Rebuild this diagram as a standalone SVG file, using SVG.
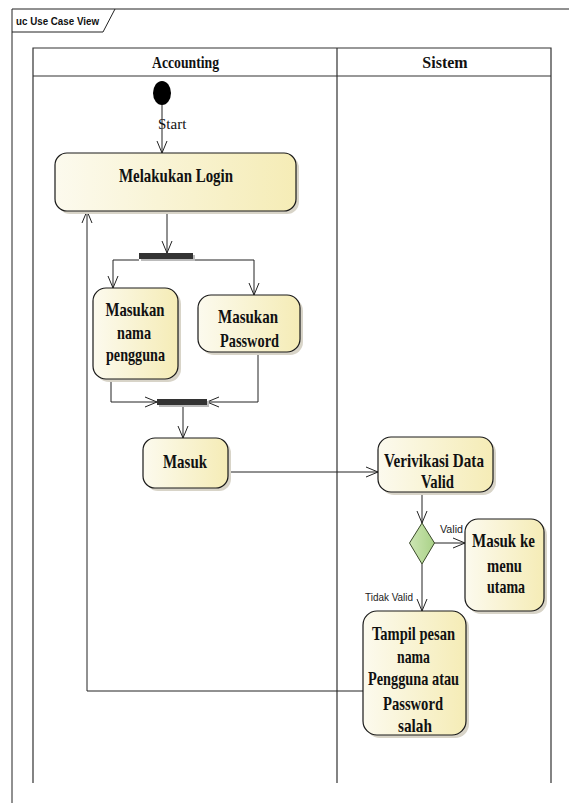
<svg xmlns="http://www.w3.org/2000/svg" width="569" height="803" viewBox="0 0 569 803">
<defs>
<linearGradient id="g" x1="0" y1="0" x2="1" y2="0">
<stop offset="0" stop-color="#fcfaee"/>
<stop offset="1" stop-color="#f5ecb6"/>
</linearGradient>
<linearGradient id="gd" x1="0" y1="0" x2="1" y2="0">
<stop offset="0" stop-color="#cde6b4"/>
<stop offset="1" stop-color="#a9d187"/>
</linearGradient>
<marker id="a" viewBox="0 0 14 12" refX="13" refY="6" markerWidth="14" markerHeight="12" markerUnits="userSpaceOnUse" orient="auto">
<path d="M1,1 L13,6 L1,11" fill="none" stroke="#222" stroke-width="1"/>
</marker>
<style>
.frame{fill:none;stroke:#222;stroke-width:1}
.lane{fill:none;stroke:#333;stroke-width:1.2}
.b{fill:url(#g);stroke:#1a1a1a;stroke-width:1.2}
.sh{fill:#d8d4c8}
.t{font-family:"Liberation Serif","Times New Roman",serif;font-weight:bold;font-size:19px;text-anchor:middle;fill:#111}
.h{font-family:"Liberation Serif","Times New Roman",serif;font-weight:bold;font-size:16px;text-anchor:middle;fill:#111}
.s{font-family:"Liberation Sans",Arial,sans-serif;font-size:10px;fill:#222}
.conn path{fill:none;stroke:#222;stroke-width:1;marker-end:url(#a)}
</style>
</defs>
<rect width="569" height="803" fill="#fff"/>
<g id="frame">
<path class="frame" d="M12,803 V9 H569"/>
<path class="frame" d="M12,32 H103 L115,9"/>
<text x="16" y="25" font-family="Liberation Sans, Arial, sans-serif" font-weight="bold" font-size="10" textLength="83" lengthAdjust="spacingAndGlyphs" fill="#111">uc Use Case View</text>
</g>
<g id="lanes">
<path class="lane" d="M33,783 V48 H551 V783 M337,48 V783 M33,76 H551"/>
<text class="h" x="185.5" y="68" textLength="67" lengthAdjust="spacingAndGlyphs">Accounting</text>
<text class="h" x="445" y="68">Sistem</text>
</g>
<g class="conn" id="connectors">
<path d="M162,105 V153"/>
<path d="M167,211 V253"/>
<path d="M139,260 H113 V288"/>
<path d="M193,260 H254 V295"/>
<path d="M111,379 V402 H157"/>
<path d="M258,352 V402 H207"/>
<path d="M183,405 V438"/>
<path d="M228,472 H378"/>
<path d="M422,492 V523"/>
<path d="M434,543 H465"/>
<path d="M422,564 V611"/>
<path d="M363,691 H87 V211"/>
</g>
<g id="start">
<ellipse cx="162" cy="93" rx="9" ry="12" fill="#000"/>
<text x="158" y="129" font-family="Liberation Serif, Times New Roman, serif" font-size="15" fill="#111">Start</text>
</g>
<g id="login">
<rect class="sh" x="58" y="156" width="241" height="58" rx="12"/>
<rect class="b" x="55" y="153" width="241" height="58" rx="12"/>
<text class="t" x="176" y="182" textLength="114" lengthAdjust="spacingAndGlyphs">Melakukan Login</text>
</g>
<g id="fork">
<rect x="141" y="255" width="54" height="6" fill="#bbb"/>
<rect x="139" y="253" width="54" height="6" fill="#333"/>
</g>
<g id="nama">
<rect class="sh" x="96" y="291" width="85" height="91" rx="13"/>
<rect class="b" x="93" y="288" width="85" height="91" rx="13"/>
<text class="t" x="135" y="316" textLength="59" lengthAdjust="spacingAndGlyphs">Masukan</text>
<text class="t" x="134" y="339" textLength="34" lengthAdjust="spacingAndGlyphs">nama</text>
<text class="t" x="135.5" y="361" textLength="59" lengthAdjust="spacingAndGlyphs">pengguna</text>
</g>
<g id="password">
<rect class="sh" x="201" y="298" width="102" height="57" rx="13"/>
<rect class="b" x="198" y="295" width="102" height="57" rx="13"/>
<text class="t" x="248" y="323" textLength="60" lengthAdjust="spacingAndGlyphs">Masukan</text>
<text class="t" x="249.5" y="347" textLength="59" lengthAdjust="spacingAndGlyphs">Password</text>
</g>
<g id="join">
<rect x="159" y="401" width="50" height="6" fill="#bbb"/>
<rect x="157" y="399" width="50" height="6" fill="#333"/>
</g>
<g id="masuk">
<rect class="sh" x="146" y="441" width="85" height="50" rx="12"/>
<rect class="b" x="143" y="438" width="85" height="50" rx="12"/>
<text class="t" x="185" y="468" textLength="44" lengthAdjust="spacingAndGlyphs">Masuk</text>
</g>
<g id="verivikasi">
<rect class="sh" x="381" y="440" width="115" height="55" rx="13"/>
<rect class="b" x="378" y="437" width="115" height="55" rx="13"/>
<text class="t" x="434" y="467" textLength="100" lengthAdjust="spacingAndGlyphs">Verivikasi Data</text>
<text class="t" x="437.5" y="488" textLength="33" lengthAdjust="spacingAndGlyphs">Valid</text>
</g>
<g id="decision">
<path d="M422,523 L434.5,543 L422,564 L409.5,543 Z" fill="url(#gd)" stroke="#3a4a2a" stroke-width="1"/>
<text class="s" x="440" y="533" textLength="23" lengthAdjust="spacingAndGlyphs">Valid</text>
<text class="s" x="365" y="601" textLength="48" lengthAdjust="spacingAndGlyphs">Tidak Valid</text>
</g>
<g id="menu">
<rect class="sh" x="468" y="522" width="79" height="92" rx="13"/>
<rect class="b" x="465" y="519" width="79" height="92" rx="13"/>
<text class="t" x="503.5" y="547" textLength="63" lengthAdjust="spacingAndGlyphs">Masuk ke</text>
<text class="t" x="504.5" y="572" textLength="35" lengthAdjust="spacingAndGlyphs">menu</text>
<text class="t" x="506" y="593" textLength="38" lengthAdjust="spacingAndGlyphs">utama</text>
</g>
<g id="tampil">
<rect class="sh" x="366" y="614" width="103" height="124" rx="14"/>
<rect class="b" x="363" y="611" width="103" height="124" rx="14"/>
<text class="t" x="413.5" y="640" textLength="83" lengthAdjust="spacingAndGlyphs">Tampil pesan</text>
<text class="t" x="413.5" y="663" textLength="33" lengthAdjust="spacingAndGlyphs">nama</text>
<text class="t" x="413.5" y="685" textLength="91" lengthAdjust="spacingAndGlyphs">Pengguna atau</text>
<text class="t" x="413" y="710" textLength="60" lengthAdjust="spacingAndGlyphs">Password</text>
<text class="t" x="415" y="732" textLength="34" lengthAdjust="spacingAndGlyphs">salah</text>
</g>
</svg>
